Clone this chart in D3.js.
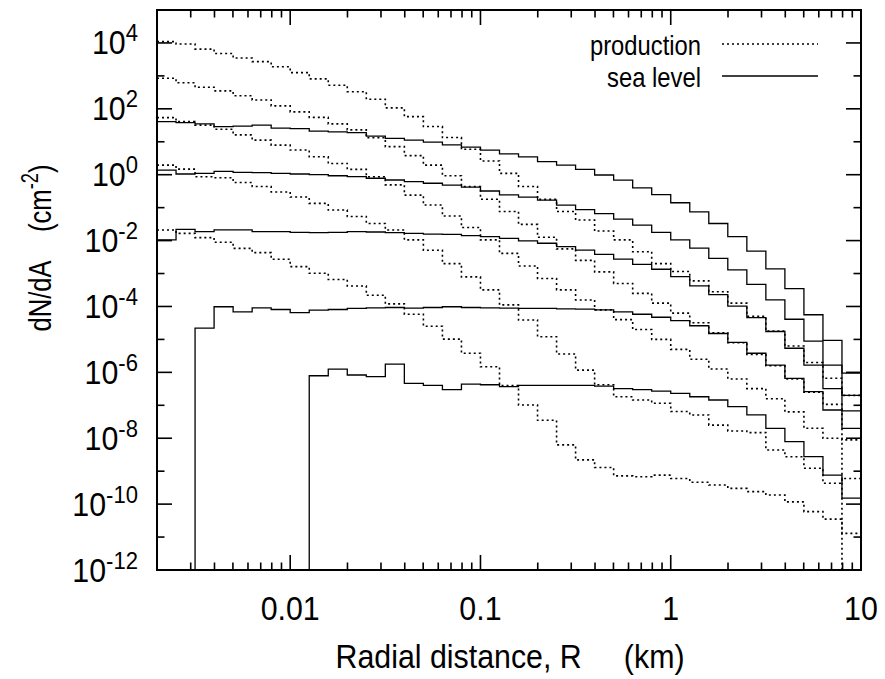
<!DOCTYPE html>
<html><head><meta charset="utf-8">
<script src="https://cdn.jsdelivr.net/npm/d3@7/dist/d3.min.js"></script>
<style>body{margin:0;background:#fff}svg{display:block}</style>
</head><body>
<svg id="c" width="885" height="679"></svg>
<script>
// bin edges (km), 10 bins per decade
const binEdgesKm = [0.001995,0.002512,0.003162,0.003981,0.005012,0.00631,0.007943,0.01,0.01259,0.01585,0.01995,0.02512,0.03162,0.03981,0.05012,0.0631,0.07943,0.1,0.1259,0.1585,0.1995,0.2512,0.3162,0.3981,0.5012,0.631,0.7943,1,1.259,1.585,1.995,2.512,3.162,3.981,5.012,6.31,7.943,10];

// production (dotted) series
const prodA = [1.1e4,9.3e3,6.5e3,4.8e3,3.5e3,2.7e3,1.9e3,1.26e3,8.1e2,5.2e2,3.3e2,1.95e2,1.07e2,58,29,13.5,5.9,2.6,1.1,0.44,0.178,7.6e-2,4.2e-2,1.95e-2,1.05e-2,4.6e-3,2.0e-3,1.15e-3,6.0e-4,2.8e-4,1.26e-4,5.0e-5,1.78e-5,6.3e-6,2.0e-6,6.6e-7,2.0e-7];
const prodB = [8.5e2,6.2e2,4.5e2,3.5e2,2.5e2,1.86e2,1.23e2,81,55,35,23,13.2,7.1,3.8,1.95,0.93,0.44,0.18,7.6e-2,3.1e-2,1.26e-2,5.6e-3,2.5e-3,1.12e-3,5.0e-4,2.5e-4,1.26e-4,6.3e-5,3.2e-5,1.58e-5,7.9e-6,3.5e-6,1.58e-6,6.3e-7,2.5e-7,1.07e-7,8.9e-9];
const prodC = [54,41,32,24,16.2,11.2,7.9,5.6,3.5,2.2,1.45,0.87,0.49,0.24,0.12,5.6e-2,2.5e-2,1.05e-2,4.1e-3,1.7e-3,7.1e-4,3.2e-4,1.58e-4,7.9e-5,4.0e-5,2.0e-5,1.0e-5,5.0e-6,2.5e-6,1.26e-6,6.3e-7,3.2e-7,1.58e-7,6.3e-8,2.0e-8,1.0e-8,0];
const prodD = [1.95,1.48,0.87,0.81,0.58,0.44,0.30,0.21,0.135,8.5e-2,5.4e-2,3.3e-2,2.1e-2,1.05e-2,5.1e-3,2.0e-3,7.9e-4,3.2e-4,1.12e-4,3.9e-5,1.2e-5,3.6e-6,1.17e-6,4.2e-7,1.82e-7,1.45e-7,1.15e-7,6.5e-8,5.1e-8,2.5e-8,1.66e-8,1.48e-8,4.4e-9,2.75e-9,1.23e-9,4.3e-10,6.0e-10];
const prodE = [2.1e-2,1.66e-2,1.23e-2,8.9e-3,5.8e-3,4.3e-3,2.7e-3,1.62e-3,1.02e-3,6.6e-4,4.2e-4,2.2e-4,1.2e-4,5.8e-5,2.5e-5,1.02e-5,3.8e-6,1.48e-6,4.0e-7,1.02e-7,3.5e-8,6.3e-9,2.2e-9,1.29e-9,7.2e-10,6.8e-10,7.6e-10,6.0e-10,4.6e-10,3.8e-10,3.0e-10,2.4e-10,1.9e-10,1.17e-10,5.9e-11,3.5e-11,1.29e-11];

// sea level (solid) series
const seaA = [41,38,35,29,30,32,26,25,21,20,19,14.8,12.6,11.2,9.8,8.1,6.9,5.6,4.3,3.5,2.5,1.95,1.45,0.98,0.68,0.40,0.25,0.141,7.4e-2,3.3e-2,1.32e-2,4.8e-3,1.38e-3,3.5e-4,5.6e-5,9.3e-6,9.5e-7];
const seaB = [1.38,1.05,1.10,1.26,1.17,1.15,1.10,1.05,1.00,0.93,0.87,0.78,0.69,0.62,0.55,0.48,0.42,0.32,0.245,0.21,0.17,0.12,8.7e-2,6.6e-2,4.5e-2,2.95e-2,1.78e-2,1.05e-2,5.9e-3,2.9e-3,1.29e-3,4.7e-4,1.58e-4,4.1e-5,8.9e-6,1.66e-6,2.0e-7];
const seaC = [1.05e-2,2.2e-2,1.86e-2,2.1e-2,2.1e-2,1.86e-2,1.86e-2,1.78e-2,1.74e-2,1.78e-2,1.86e-2,1.82e-2,1.74e-2,1.66e-2,1.58e-2,1.55e-2,1.41e-2,1.32e-2,1.17e-2,9.8e-3,8.3e-3,6.6e-3,5.1e-3,3.8e-3,2.75e-3,1.9e-3,1.35e-3,8.1e-4,4.2e-4,2.3e-4,1.02e-4,4.6e-5,1.74e-5,5.4e-6,1.66e-6,3.2e-7,6.8e-8];
const seaD = [0,0,2.2e-5,9.8e-5,6.9e-5,9.1e-5,8.1e-5,6.5e-5,7.8e-5,8.1e-5,8.7e-5,9.1e-5,9.3e-5,8.9e-5,9.3e-5,9.8e-5,9.3e-5,9.1e-5,8.9e-5,8.7e-5,8.7e-5,8.5e-5,8.3e-5,7.9e-5,6.9e-5,5.8e-5,4.7e-5,3.7e-5,2.6e-5,1.51e-5,8.1e-6,3.8e-6,1.66e-6,6.6e-7,2.6e-7,7.2e-8,2.0e-8];
const seaE = [0,0,0,0,0,0,0,0,7.9e-7,1.26e-6,8.3e-7,7.4e-7,1.78e-6,4.6e-7,4.0e-7,3.0e-7,4.4e-7,4.2e-7,3.7e-7,4.0e-7,4.0e-7,4.0e-7,4.0e-7,3.8e-7,3.2e-7,3.0e-7,2.7e-7,2.3e-7,1.82e-7,1.45e-7,9.1e-8,5.1e-8,2.0e-8,7.9e-9,2.75e-9,7.6e-10,1.51e-10];

const xMajorTicks = [0.01,0.1,1,10];
const xTickLabels = ["0.01","0.1","1","10"];
const yMajorExponents = [-12,-10,-8,-6,-4,-2,0,2,4];
const legendLabels = ["production","sea level"];

const W=885,H=679, L=157,R=861,T=10,B=570;
const FONT='"Liberation Sans", Arial, Helvetica, sans-serif';
const SX=0.92; // horizontal condensation of text
const svg=d3.select('#c');
svg.append('rect').attr('width',W).attr('height',H).attr('fill','#fff');

const x=d3.scaleLog().domain([binEdgesKm[0],10]).range([L,R]);
const y=d3.scaleLog().domain([1e-12,1e5]).range([B,T]);

svg.append('defs').append('clipPath').attr('id','clip')
  .append('rect').attr('x',L).attr('y',T).attr('width',R-L).attr('height',B-T);

const yv=v=> v>0 ? y(v) : B+6;
function stepPts(vals){
  const pts=vals.map((v,i)=>[x(binEdgesKm[i]),yv(v)]);
  pts.push([x(binEdgesKm[vals.length]),yv(vals[vals.length-1])]);
  return pts;
}
const line=d3.line().curve(d3.curveStepAfter);
const g=svg.append('g').attr('clip-path','url(#clip)');
const prod=[prodA,prodB,prodC,prodD,prodE];
const sea=[seaA,seaB,seaC,seaD,seaE];
sea.forEach(s=>g.append('path').attr('d',line(stepPts(s))).attr('fill','none')
  .attr('stroke','#000').attr('stroke-width',1.3));
prod.forEach(s=>g.append('path').attr('d',line(stepPts(s))).attr('fill','none')
  .attr('stroke','#000').attr('stroke-width',1.6).attr('stroke-dasharray','2,3'));

// ticks (inward, mirrored)
const tk=svg.append('g').attr('stroke','#000').attr('stroke-width',1.6);
const xMinor=[];
[0.001,0.01,0.1,1].forEach(d=>{for(let m=2;m<=9;m++){const v=d*m; if(v>binEdgesKm[0]&&v<10) xMinor.push(v);}});
xMinor.forEach(v=>{const px=x(v);
  tk.append('line').attr('x1',px).attr('x2',px).attr('y1',B).attr('y2',B-7.5);
  tk.append('line').attr('x1',px).attr('x2',px).attr('y1',T).attr('y2',T+7.5);});
xMajorTicks.forEach(v=>{const px=x(v);
  tk.append('line').attr('x1',px).attr('x2',px).attr('y1',B).attr('y2',B-15);
  tk.append('line').attr('x1',px).attr('x2',px).attr('y1',T).attr('y2',T+15);});
for(let e=-11;e<=4;e++){const py=y(Math.pow(10,e)); const len=(e%2===0)?15:7.5;
  tk.append('line').attr('x1',L).attr('x2',L+len).attr('y1',py).attr('y2',py);
  tk.append('line').attr('x1',R).attr('x2',R-len).attr('y1',py).attr('y2',py);}

// frame
svg.append('rect').attr('x',L).attr('y',T).attr('width',R-L).attr('height',B-T)
  .attr('fill','none').attr('stroke','#000').attr('stroke-width',2);

function txt(px,py,anchor,size,sx){
  return svg.append('text').attr('transform',`translate(${px},${py}) scale(${sx},1)`)
    .attr('text-anchor',anchor).attr('font-family',FONT).attr('font-size',size);
}
// x tick labels
xMajorTicks.forEach((v,i)=>txt(x(v),620,'middle',33,SX).text(xTickLabels[i]));
// y tick labels
yMajorExponents.forEach(e=>{
  const t=txt(138,y(Math.pow(10,e))+11.5,'end',33,SX);
  t.append('tspan').text('10');
  t.append('tspan').attr('dy',-13).attr('font-size',24).text(String(e));
});
// axis titles
txt(510,668,'middle',33,SX).attr('xml:space','preserve').text('Radial distance, R     (km)');
const yt=svg.append('text').attr('transform','translate(51,248) rotate(-90) scale(0.8,1)')
  .attr('text-anchor','middle').attr('font-family',FONT).attr('font-size',32);
yt.append('tspan').text('dN/dA\u00a0\u00a0\u00a0\u00a0(cm');
yt.append('tspan').attr('dy',-13).attr('font-size',23).text('-2');
yt.append('tspan').attr('dy',13).text(')');

// legend
const leg=[{y:55,dash:'2,3',w:1.6},{y:87,dash:null,w:1.3}];
leg.forEach((d,i)=>{
  txt(701,d.y,'end',28,0.85).text(legendLabels[i]);
  const ln=svg.append('line').attr('x1',722).attr('x2',818).attr('y1',d.y-11).attr('y2',d.y-11)
    .attr('stroke','#000').attr('stroke-width',d.w);
  if(d.dash) ln.attr('stroke-dasharray',d.dash);
});
</script>
</body></html>
